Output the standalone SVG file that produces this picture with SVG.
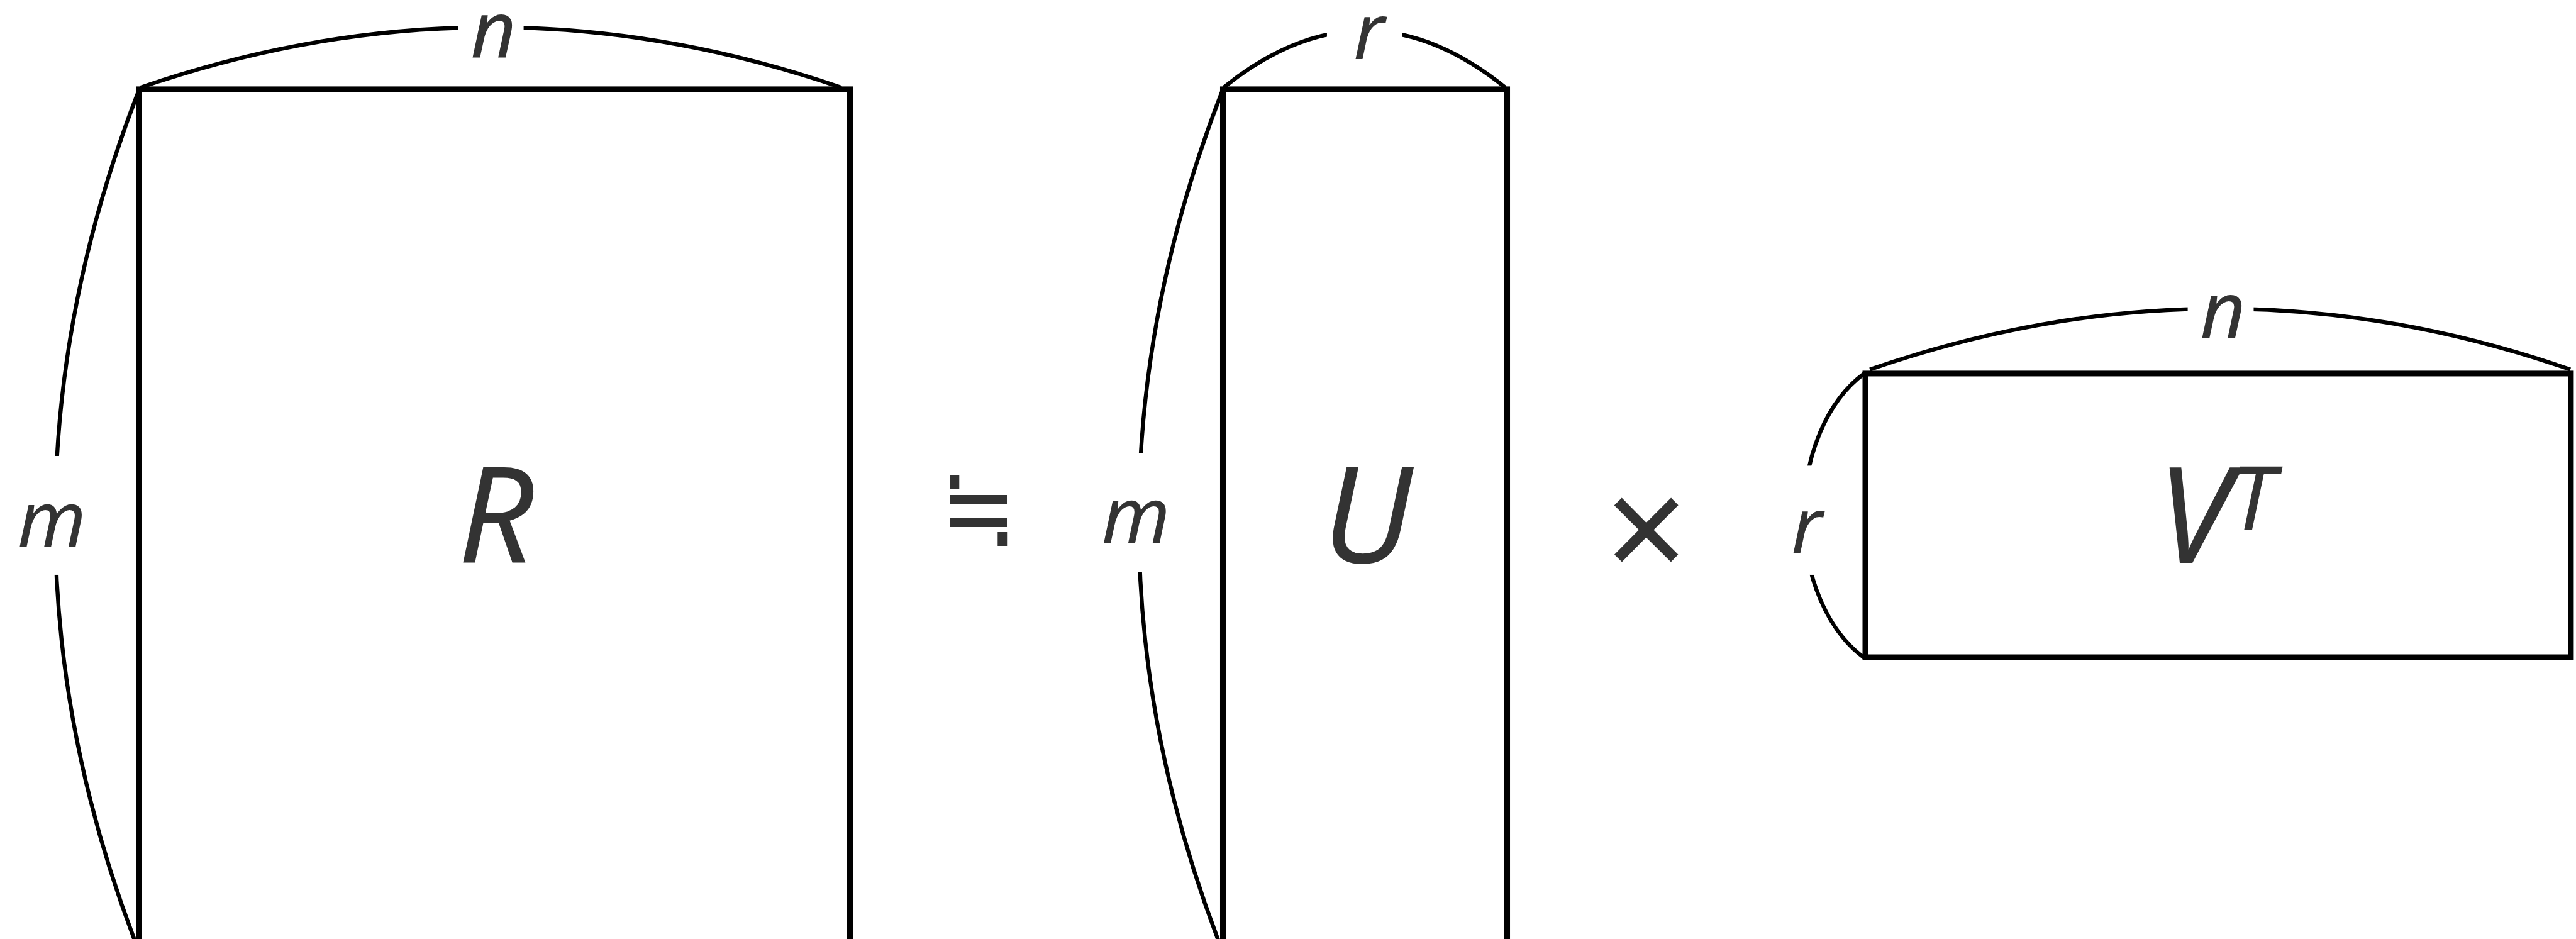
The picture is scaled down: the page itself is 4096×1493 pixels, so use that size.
<svg xmlns="http://www.w3.org/2000/svg" width="4096" height="1493" viewBox="0 0 4096 1493">
<defs>
<style>
.frame{fill:none;stroke:#000;stroke-width:10;stroke-linecap:square}
.dim{fill:none;stroke:#000;stroke-width:7}
.bg{fill:#fff;stroke:none}
.lbl{font-family:"Noto Sans","Open Sans",sans-serif;font-style:italic;font-size:138px;fill:#333;text-anchor:middle}
.big{font-size:234px}
.op{font-family:"Noto Sans","DejaVu Sans",sans-serif;font-style:normal;fill:#333;text-anchor:middle}
.approx{font-family:"Noto Sans CJK JP",sans-serif}
</style>
</defs>
<rect x="0" y="0" width="4096" height="1493" fill="#fff"/>
<g transform="scale(0.904)">
<g id="connectors">
<path class="dim" d="M247,154 Q863.5,-58 1480,154"/>
<path class="dim" d="M245,157 Q-51,916 245,1675"/>
<path class="dim" d="M2152,154 Q2400,-46 2648,154"/>
<path class="dim" d="M2151,157 Q1855,916 2151,1675"/>
<path class="dim" d="M3289,650 Q3905,436 4521,650"/>
<path class="dim" d="M3279,657 A193,280 0 0,0 3279,1157"/>
</g>
<g id="node-R">
<rect class="frame" x="245" y="157" width="1250" height="1518"/>
<text class="lbl big" x="872" y="990">R</text>
</g>
<g id="node-U">
<rect class="frame" x="2151" y="157" width="500" height="1518"/>
<text class="lbl big" x="2405" y="990">U</text>
</g>
<g id="node-VT">
<rect class="frame" x="3281" y="657" width="1241" height="499"/>
<text class="lbl big" x="3898" y="990">V<tspan font-size="155" dy="-58">T</tspan></text>
</g>
<g id="dim-labels">
<rect class="bg" x="806" y="0" width="115" height="110"/>
<text class="lbl" x="868" y="101">n</text>
<rect class="bg" x="20" y="802" width="150" height="209"/>
<text class="lbl" x="91" y="962">m</text>
<rect class="bg" x="2334" y="0" width="132" height="110"/>
<text class="lbl" x="2408" y="104">r</text>
<rect class="bg" x="1930" y="797" width="150" height="209"/>
<text class="lbl" x="1998" y="956">m</text>
<rect class="bg" x="3848" y="500" width="116" height="100"/>
<text class="lbl" x="3910" y="594">n</text>
<rect class="bg" x="3120" y="819" width="120" height="192"/>
<text class="lbl" x="3178" y="974">r</text>
</g>
<g id="op-approx" transform="translate(1721,890) scale(1,1.25) translate(-1721,-890)">
<text class="op approx" x="1721" y="947" font-size="160">≒</text>
</g>
<g id="op-times">
<text class="op" x="2896" y="1022" font-size="255">×</text>
</g>
</g>
</svg>
